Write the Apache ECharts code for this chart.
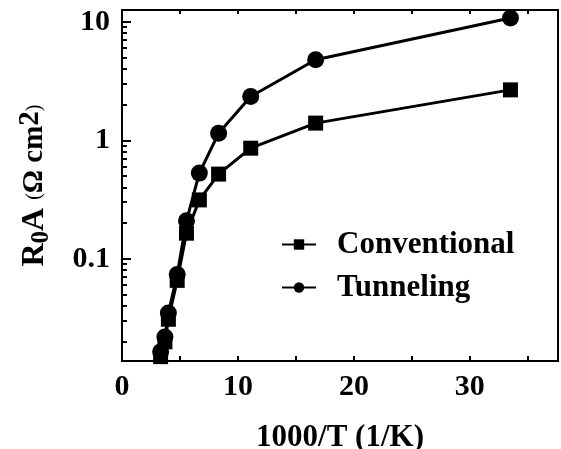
<!DOCTYPE html>
<html>
<head>
<meta charset="utf-8">
<script src="https://cdn.jsdelivr.net/npm/echarts@6/dist/echarts.min.js"></script>
<style>
  html, body { margin: 0; padding: 0; background: #fff; }
  #main { width: 561px; height: 449px; }
</style>
</head>
<body>
<div id="main"></div>
<script>
  // 1000/T values (1/K)
  var invT = [3.33, 3.7, 4.0, 4.76, 5.56, 6.67, 8.33, 11.1, 16.7, 33.5];
  // R0A (ohm cm^2)
  var conventional = [0.015, 0.02, 0.031, 0.066, 0.165, 0.315, 0.52, 0.86, 1.4, 2.67];
  var tunneling = [0.0165, 0.022, 0.035, 0.074, 0.21, 0.53, 1.15, 2.35, 4.8, 10.8];
  var yLabels = [0.1, 1, 10];
  var yMinor = [0.02, 0.03, 0.04, 0.05, 0.06, 0.07, 0.08, 0.09,
                0.2, 0.3, 0.4, 0.5, 0.6, 0.7, 0.8, 0.9,
                2, 3, 4, 5, 6, 7, 8, 9];

  var font = 'Liberation Serif';
  function pairs(ys) {
    return invT.map(function (x, i) { return [x, ys[i]]; });
  }

  var chart = echarts.init(document.getElementById('main'));
  var option = {
    animation: false,
    grid: {
      left: 122, right: 3, top: 10, bottom: 88,
      outerBoundsMode: 'none',
      containLabel: false,
      show: true, borderColor: '#000', borderWidth: 2, backgroundColor: 'transparent'
    },
    legend: {
      orient: 'vertical',
      left: 276,
      top: 224,
      itemWidth: 34,
      itemHeight: 13,
      itemGap: 12,
      textStyle: {
        fontFamily: font, fontWeight: 'bold', fontSize: 31, color: '#000',
        padding: [0, 0, 0, 16]
      },
      data: ['Conventional', 'Tunneling']
    },
    xAxis: [{
      type: 'value',
      min: 0,
      max: 37.6,
      interval: 5,
      name: '1000/T (1/K)',
      nameLocation: 'middle',
      nameGap: 61,
      nameTextStyle: { fontFamily: font, fontWeight: 'bold', fontSize: 31, color: '#000' },
      axisLine: { lineStyle: { color: '#000', width: 2 } },
      axisTick: { inside: true, length: 5, lineStyle: { color: '#000', width: 2 } },
      axisLabel: {
        margin: 11, showMaxLabel: false,
        fontFamily: font, fontWeight: 'bold', fontSize: 30, color: '#000',
        formatter: function (v) { return v % 10 === 0 ? String(v) : ''; }
      },
      splitLine: { show: false }
    }, {
      type: 'value',
      position: 'top',
      min: 0,
      max: 37.6,
      interval: 5,
      axisLine: { lineStyle: { color: '#000', width: 2 } },
      axisTick: { inside: true, length: 4, lineStyle: { color: '#000', width: 2 } },
      axisLabel: { show: false },
      splitLine: { show: false }
    }],
    yAxis: {
      type: 'log',
      logBase: 10,
      min: 0.01378,
      max: 12.6,
      position: 'left',
      name: '{b|R}{s|0}{b|A }{p|(}{m|Ω cm}{sup|2}{p|)}',
      nameLocation: 'middle',
      nameRotate: 90,
      nameGap: 68,
      nameTextStyle: {
        color: '#000',
        rich: {
          b: { fontFamily: font, fontWeight: 'bold', fontSize: 32, color: '#000', lineHeight: 38 },
          s: { fontFamily: font, fontWeight: 'bold', fontSize: 25, color: '#000', verticalAlign: 'bottom', lineHeight: 38 },
          p: { fontFamily: font, fontWeight: 'normal', fontSize: 20, color: '#000', lineHeight: 38 },
          m: { fontFamily: font, fontWeight: 'bold', fontSize: 29, color: '#000', lineHeight: 38 },
          sup: { fontFamily: font, fontWeight: 'bold', fontSize: 29, color: '#000', verticalAlign: 'top', lineHeight: 38 }
        }
      },
      axisLine: { lineStyle: { color: '#000', width: 2 } },
      axisTick: { inside: true, length: 9, lineStyle: { color: '#000', width: 2 } },
      axisLabel: {
        margin: 12, showMinLabel: false, showMaxLabel: false,
        fontFamily: font, fontWeight: 'bold', fontSize: 30, color: '#000',
        formatter: function (v) { return yLabels.indexOf(v) >= 0 ? String(v) : ''; }
      },
      splitLine: { show: false }
    },
    series: [{
      name: 'Conventional',
      type: 'line',
      data: pairs(conventional),
      symbol: 'rect',
      symbolSize: 15,
      lineStyle: { color: '#000', width: 3 },
      itemStyle: { color: '#000' }
    }, {
      name: 'Tunneling',
      type: 'line',
      data: pairs(tunneling),
      symbol: 'circle',
      symbolSize: 17,
      lineStyle: { color: '#000', width: 3 },
      itemStyle: { color: '#000' }
    }]
  };
  chart.setOption(option);

  // minor log ticks on the left edge, placed through the axis scale
  var x0 = chart.convertToPixel({ xAxisIndex: 0 }, 0);
  chart.setOption({
    graphic: yMinor.map(function (v) {
      var y = Math.round(chart.convertToPixel({ yAxisIndex: 0 }, v));
      return {
        type: 'line',
        silent: true,
        shape: { x1: x0, y1: y, x2: x0 + 5, y2: y },
        style: { stroke: '#000', lineWidth: 2 }
      };
    })
  });
</script>
</body>
</html>
